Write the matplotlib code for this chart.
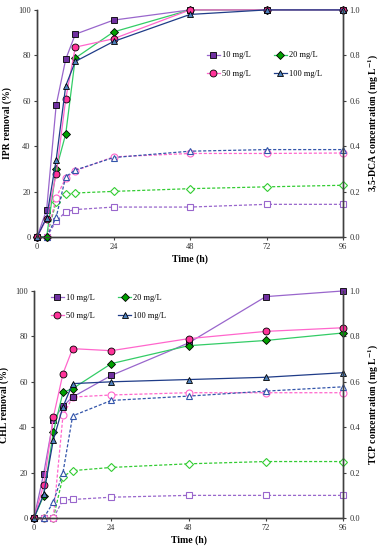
import matplotlib
matplotlib.use("Agg")
import matplotlib.pyplot as plt

plt.rcParams['font.family'] = ['Liberation Serif', 'DejaVu Serif']
plt.rcParams['mathtext.fontset'] = 'stix'

t = [0, 3, 6, 9, 12, 24, 48, 72, 96]
labels = ['10 mg/L', '20 mg/L', '50 mg/L', '100 mg/L']

# top panel: IPR removal (%) and 3,5-DCA formed (mg/L)
ipr = [
    [0, 12.0, 58.1, 78.3, 89.3, 95.5, 100, 100, 100],
    [0, 0, 29.8, 45.4, 78.8, 90.3, 100, 100, 100],
    [0, 8.1, 27.6, 60.8, 83.6, 87.3, 100, 100, 100],
    [0, 8.6, 34.0, 66.6, 77.3, 86.1, 98.0, 100, 100],
]
dca = [
    [0, 0, 0.07, 0.111, 0.121, 0.132, 0.132, 0.144, 0.144],
    [0, 0, 0.155, 0.19, 0.194, 0.201, 0.213, 0.221, 0.228],
    [0, 0, 0.174, 0.26, 0.292, 0.353, 0.368, 0.368, 0.370],
    [0, 0, 0.087, 0.266, 0.295, 0.350, 0.378, 0.385, 0.385],
]

# bottom panel: CHL removal (%) and TCP formed (mg/L)
chl = [
    [0, 19.5, 43.3, 49.3, 53.3, 62.8, 77.1, 97.5, 100],
    [0, 9.8, 37.8, 55.4, 57.0, 68.0, 75.9, 78.2, 81.5],
    [0, 14.6, 44.4, 63.6, 74.6, 73.7, 79.0, 82.2, 83.8],
    [0, 10.5, 34.4, 49.0, 59.2, 60.0, 61.0, 62.0, 64.0],
]
tcp = [
    [0, 0, 0, 0.080, 0.082, 0.092, 0.100, 0.100, 0.100],
    [0, 0, 0, 0.183, 0.209, 0.223, 0.239, 0.249, 0.249],
    [0, 0, 0, 0.452, 0.533, 0.542, 0.552, 0.552, 0.552],
    [0, 0, 0.070, 0.200, 0.450, 0.518, 0.537, 0.559, 0.578],
]

markers = ['s', 'D', 'o', '^']
msizes = [5, 3.8, 5, 5]
face = ['#7030A0', '#00A000', '#FF3399', '#4F81BD']
line_c = ['#9966CC', '#33CC66', '#FF66CC', '#1F3C88']
open_c = ['#9966CC', '#33CC33', '#FF66CC', '#3355AA']

fig = plt.figure(figsize=(3.82, 5.5), dpi=100)


def panel(rect, removal, conc, ylab, rlab, anchor):
    ax = fig.add_axes(rect)
    ax2 = ax.twinx()
    for i in range(4):
        ax2.plot(t, conc[i], linestyle=(0, (2.5, 1.5)), color=open_c[i], lw=0.9,
                 marker=markers[i], ms=msizes[i], mfc='white', mec=open_c[i],
                 mew=0.8, clip_on=False)
    handles = []
    for i in range(4):
        h, = ax.plot(t, removal[i], color=line_c[i], lw=0.9, marker=markers[i],
                     ms=msizes[i], mfc=face[i], mec='black', mew=0.6,
                     label=labels[i], clip_on=False)
        handles.append(h)
    ax.set_zorder(ax2.get_zorder() + 1)
    ax.patch.set_visible(False)

    ax.set_xlim(0, 96)
    ax.set_ylim(0, 100)
    ax2.set_ylim(0, 1.0)
    ax.set_xticks([0, 24, 48, 72, 96])
    ax.set_yticks([0, 20, 40, 60, 80, 100])
    ax2.set_yticks([0, 0.2, 0.4, 0.6, 0.8, 1.0])
    ax2.set_yticklabels(['0.0', '0.2', '0.4', '0.6', '0.8', '1.0'])
    for a in (ax, ax2):
        a.spines['top'].set_visible(False)
        for s in ('left', 'right', 'bottom'):
            a.spines[s].set_color('#404040')
            a.spines[s].set_linewidth(1.0)
        a.tick_params(labelsize=6, length=2.5, width=0.8, color='#404040',
                      labelcolor='#303030', pad=2)
    ax.set_xlabel('Time (h)', fontsize=7, fontweight='bold', labelpad=2)
    ax.set_ylabel(ylab, fontsize=7, fontweight='bold', labelpad=4)
    ax2.set_ylabel(rlab, fontsize=7, fontweight='bold', labelpad=5)
    order = [0, 2, 1, 3]
    ax.legend([handles[k] for k in order], [labels[k] for k in order],
              loc='upper left', bbox_to_anchor=anchor, ncol=2, frameon=False,
              fontsize=6, handlelength=1.6, handletextpad=0.2,
              columnspacing=2.8, labelspacing=1.25)
    return ax


panel([0.097, 0.569, 0.801, 0.413], ipr, dca,
      'IPR removal (%)', r'3,5-DCA concentration (mg L$^{\mathbf{-1}}$)',
      (0.53, 0.85))
panel([0.089, 0.058, 0.809, 0.413], chl, tcp,
      'CHL removal (%)', r'TCP concentration (mg L$^{\mathbf{-1}}$)',
      (0.03, 1.02))

fig.savefig('out.png', dpi=100)
